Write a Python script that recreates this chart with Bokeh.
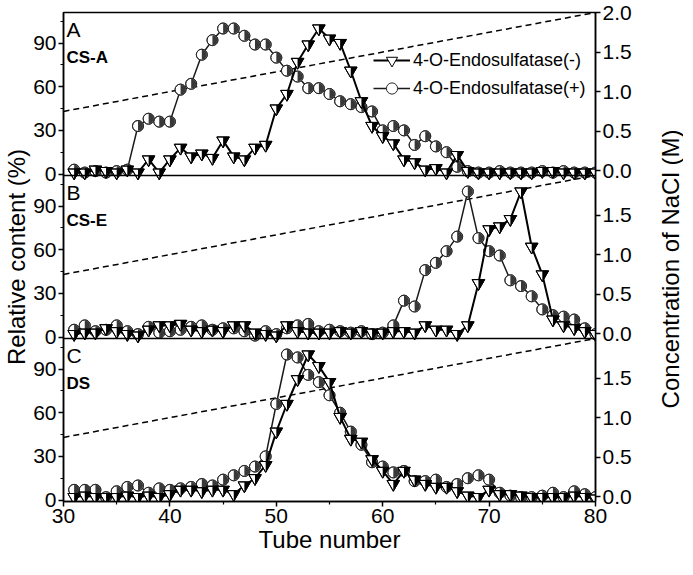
import math
from bokeh.plotting import figure
from bokeh.layouts import row
from bokeh.models import (Range1d, LinearAxis, FixedTicker, Label, Legend,
                          LegendItem, Span)
from bokeh.embed import file_html
from bokeh.resources import INLINE

# ---------------- data ----------------
tube = list(range(31, 81))

# Panel A (CS-A)
a_minus = [1, 1, 3, 2, 1, 3, 1, 10, 1, 10,
           18, 12, 14, 11, 23, 12, 10, 18, 20, 45,
           55, 77, 89, 100, 93, 90, 71, 50, 33, 26,
           21, 10, 8, 3, 4, 1, 13, 2, 1, 1,
           1, 1, 1, 1, 2, 2, 1, 1, 1, 1]
a_plus = [3, 1, 2, 1, 2, 3, 33, 38, 36, 36,
          58, 62, 82, 92, 100, 100, 95, 89, 89, 80,
          71, 67, 59, 59, 55, 50, 48, 46, 43, 30,
          33, 30, 20, 26, 19, 15, 5, 2, 1, 1,
          2, 1, 1, 1, 2, 1, 2, 1, 1, 1]
# Panel B (CS-E)
b_minus = [2, 3, 3, 6, 4, 2, 1, 5, 8, 8,
           9, 5, 4, 5, 4, 8, 8, 3, 2, 1,
           8, 4, 3, 3, 3, 4, 3, 4, 3, 3,
           4, 4, 3, 8, 5, 5, 2, 8, 37, 74,
           76, 81, 100, 62, 43, 12, 8, 6, 4, 2]
b_plus = [5, 8, 4, 5, 8, 4, 2, 7, 3, 4,
          5, 7, 8, 5, 6, 6, 4, 1, 4, 2,
          6, 8, 9, 4, 5, 4, 3, 4, 2, 3,
          8, 25, 21, 46, 51, 59, 69, 100, 68, 59,
          56, 39, 35, 28, 19, 15, 14, 12, 6, 2]
# Panel C (DS)
c_minus = [2, 3, 2, 2, 2, 3, 2, 3, 2, 4,
           7, 7, 6, 7, 7, 4, 10, 15, 24, 47,
           66, 83, 100, 92, 81, 57, 42, 40, 28, 20,
           11, 20, 14, 11, 9, 9, 6, 3, 2, 7,
           4, 4, 3, 2, 2, 2, 2, 3, 2, 1]
c_plus = [7, 7, 7, 2, 6, 9, 10, 5, 8, 7,
          8, 9, 11, 10, 14, 17, 20, 23, 30, 66,
          100, 98, 86, 81, 72, 60, 47, 38, 26, 23,
          19, 20, 13, 13, 14, 9, 11, 15, 17, 14,
          5, 3, 2, 2, 3, 5, 2, 6, 4, 2]

# NaCl gradient (dashed line, right axis)
nacl_tube = [30, 80]
nacl_conc = [0.75, 2.0]

panel_letters = ["A", "B", "C"]
panel_names = ["CS-A", "CS-E", "DS"]
series_labels = ["4-O-Endosulfatase(-)", "4-O-Endosulfatase(+)"]
y_major = [0, 30, 60, 90]
y_minor = [15, 45, 75, 105]
n_major_top = [0.0, 0.5, 1.0, 1.5, 2.0]
n_major = [0.0, 0.5, 1.0, 1.5]
x_major = [30, 40, 50, 60, 70, 80]
x_minor = [35, 45, 55, 65, 75]

# ---------------- layout / style ----------------
FONT = "Liberation Sans"
FW, FH = 532, 489
TOP, BL, BR = 12, 57, 52
TOTAL_H = 559
TW = 36                          # width of the right-title strip
PH = FH / 3
X0, X1 = 30, 80
Y0, Y1 = -1, 111
N0, N1 = -0.06, 2.0
YS = Y1 - Y0                    # units per panel on main axis
NS = round(100 * (N1 - N0))     # units per panel on right axis
TRI = 12.5
CIR = 11
CIR_FILL = "#383838"

p = figure(frame_width=FW, frame_height=FH,
           x_range=Range1d(X0, X1), y_range=Range1d(0, 3 * YS),
           output_backend="svg", toolbar_location=None,
           min_border_left=BL, min_border_right=BR,
           min_border_top=TOP, min_border_bottom=TOTAL_H - TOP - FH,
           x_axis_label="Tube number", y_axis_label="Relative content (%)")
p.extra_y_ranges = {"nacl": Range1d(0, 3 * NS)}
p.grid.visible = False
p.outline_line_color = "black"
p.outline_line_width = 1.5
p.background_fill_color = "white"
p.border_fill_color = "white"

# ticks: one axis on each side serves the three stacked panels
lt, lm, lov = [], [], {}
rt, rov = [], {}
for k in range(3):
    off = (2 - k) * YS
    for v in y_major:
        t = round(v - Y0) + off
        lt.append(t)
        lov[t] = str(v)
    for v in y_minor:
        lm.append(round(v - Y0) + off)
    noff = (2 - k) * NS
    for m in (n_major_top if k == 0 else n_major):
        t = round(100 * (m - N0)) + noff
        rt.append(t)
        rov[t] = f"{m:.1f}"

p.yaxis[0].ticker = FixedTicker(ticks=lt, minor_ticks=lm)
p.yaxis[0].major_label_overrides = lov
p.xaxis[0].ticker = FixedTicker(ticks=x_major, minor_ticks=x_minor)

raxis = LinearAxis(y_range_name="nacl", ticker=FixedTicker(ticks=rt),
                   major_label_overrides=rov)
p.add_layout(raxis, "right")

for ax in p.axis:
    ax.axis_line_width = 1.5
    ax.major_tick_line_width = 1.5
    ax.minor_tick_line_width = 1.2
    ax.major_tick_out = 5
    ax.major_tick_in = 0
    ax.minor_tick_out = 3
    ax.minor_tick_in = 0
    ax.major_label_standoff = 2
    ax.major_label_text_font = FONT
    ax.major_label_text_font_size = "21px"
    ax.major_label_text_color = "black"
    ax.axis_label_text_font = FONT
    ax.axis_label_text_font_size = "24px"
    ax.axis_label_text_font_style = "normal"
    ax.axis_label_text_color = "black"
    ax.axis_label_standoff = 0

# panel separators
for k in (1, 2):
    p.add_layout(Span(location=k * YS, dimension="width",
                      line_color="black", line_width=1.5))

panels = [(a_minus, a_plus), (b_minus, b_plus), (c_minus, c_plus)]
dx = (X1 - X0) / FW
dy = YS / PH
r = TRI / 2
h = r * math.sqrt(3)
a = h / 3

legend_items = None
for k, (minus, plus) in enumerate(panels):
    off = (2 - k) * YS
    sub_n = p.subplot(x_source=p.x_range, y_source=Range1d(N0, N1),
                      x_target=p.x_range, y_target=Range1d(off, off + YS))
    sub_n.line(nacl_tube, nacl_conc, line_color="black", line_width=1.5,
               line_dash="6 4")

    sub = p.subplot(x_source=p.x_range, y_source=Range1d(Y0, Y1),
                    x_target=p.x_range, y_target=Range1d(off, off + YS))
    # (+) circles, right half dark
    c_line = sub.line(tube, plus, line_color="#1a1a1a", line_width=1.5)
    c_white = sub.scatter(tube, plus, marker="circle", size=CIR,
                          fill_color="white", line_color="#2a2a2a", line_width=1)
    sub.wedge(x=tube, y=plus, radius=CIR / 2 - 0.5, radius_units="screen",
              start_angle=-math.pi / 2, end_angle=math.pi / 2,
              fill_color=CIR_FILL, line_color=None)
    sub.scatter(tube, plus, marker="circle", size=CIR, fill_alpha=0,
                line_color="#2a2a2a", line_width=1)

    # (-) inverted triangles, right half black
    t_line = sub.line(tube, minus, line_color="black", line_width=2)
    t_white = sub.scatter(tube, minus, marker="inverted_triangle", size=TRI,
                          fill_color="white", line_color="black", line_width=1)
    hx = [[x, x + r * dx, x] for x in tube]
    hy = [[v + a * dy, v + a * dy, v - 2 * h / 3 * dy] for v in minus]
    sub.patches(hx, hy, fill_color="black", line_color=None)
    sub.scatter(tube, minus, marker="inverted_triangle", size=TRI,
                fill_alpha=0, line_color="black", line_width=1)

    if k == 0:
        legend_items = [LegendItem(label=series_labels[0], renderers=[t_line, t_white]),
                        LegendItem(label=series_labels[1], renderers=[c_line, c_white])]

    ptop = FH - k * PH
    p.add_layout(Label(x=3, y=ptop - 5, x_units="screen", y_units="screen",
                       text=panel_letters[k], text_baseline="top",
                       text_font=FONT, text_font_size="21px", text_color="black"))
    p.add_layout(Label(x=3, y=ptop - 35, x_units="screen", y_units="screen",
                       text=panel_names[k], text_baseline="top",
                       text_font=FONT, text_font_size="17px",
                       text_font_style="bold", text_color="black"))

legend = Legend(items=legend_items, location=(310, 399),
                glyph_width=37, glyph_height=28, label_height=28, spacing=-8,
                padding=0, margin=0, label_standoff=3,
                border_line_alpha=0, background_fill_alpha=0,
                label_text_font=FONT, label_text_font_size="18px",
                label_text_color="black")
p.add_layout(legend)

# right-hand title strip (text reads bottom-to-top, like the left title)
tfig = figure(frame_width=TW, frame_height=TOTAL_H,
              x_range=Range1d(0, 1), y_range=Range1d(0, 1),
              x_axis_type=None, y_axis_type=None,
              output_backend="svg", toolbar_location=None,
              min_border=0, outline_line_color=None)
tfig.grid.visible = False
tfig.add_layout(Label(x=TW - 13, y=TOTAL_H - (TOP + FH / 2),
                      x_units="screen", y_units="screen",
                      text="Concentration of NaCl (M)", angle=math.pi / 2,
                      text_align="center", text_baseline="middle",
                      text_font=FONT, text_font_size="24px", text_color="black"))

layout = row(p, tfig, spacing=0)
open("out.html", "w").write(file_html(layout, INLINE))
